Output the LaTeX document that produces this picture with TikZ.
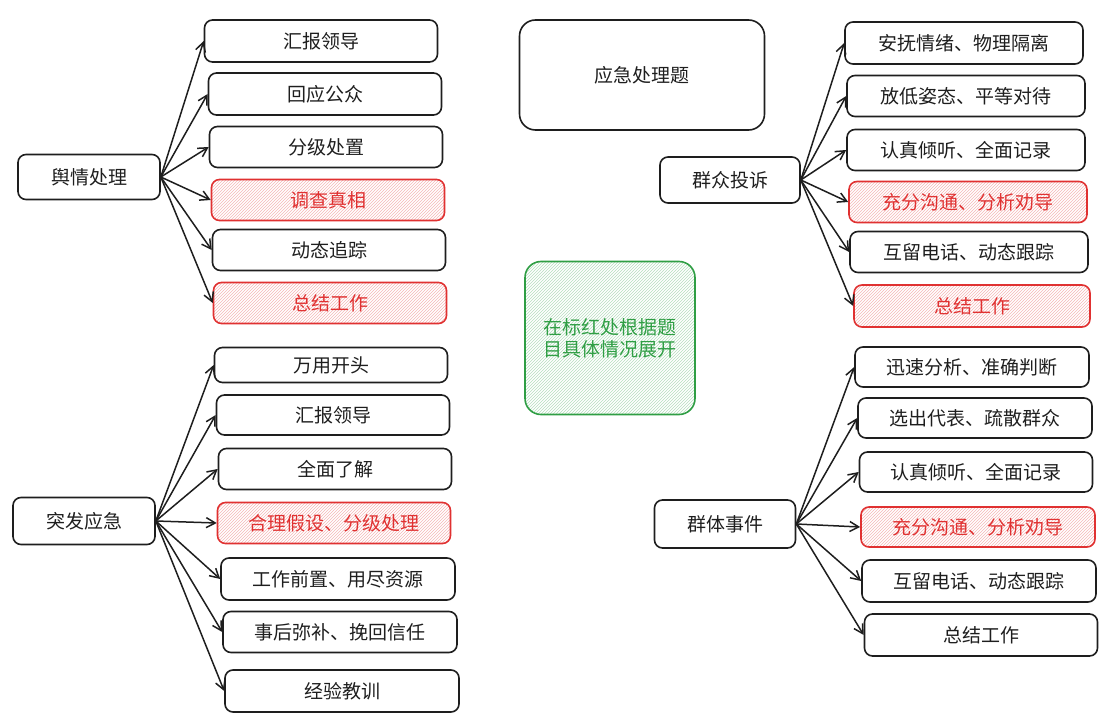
\documentclass[tikz,border=0pt]{standalone}
\usepackage{fontspec}
\setmainfont{Noto Sans CJK SC}
\usetikzlibrary{arrows.meta,patterns}
\definecolor{exred}{HTML}{E03131}
\definecolor{exgreen}{HTML}{2F9E44}
\definecolor{exblack}{HTML}{1E1E1E}
\tikzset{
 box/.style={draw=exblack,line width=1.6pt,rounded corners=8pt,font=\fontsize{19}{22}\selectfont,text=exblack,inner sep=0pt},
 redbox/.style={box,draw=exred,text=exred,pattern=north east lines,pattern color=exred!35},
 greenbox/.style={box,draw=exgreen,text=exgreen,pattern=north east lines,pattern color=exgreen!35,rounded corners=16pt,align=center},
 arr/.style={-{Straight Barb[length=9pt,width=10pt]},line width=1.5pt,exblack}
}
\begin{document}
\begin{tikzpicture}[x=1pt,y=-1pt]
\useasboundingbox (0,0) rectangle (1115,727);
% left top
\node[box,minimum width=142pt,minimum height=45pt] (p1) at (89,177) {舆情处理};
\node[box,minimum width=233pt,minimum height=42pt] (a1) at (321,41) {汇报领导};
\node[box,minimum width=233pt,minimum height=42pt] (a2) at (325,94) {回应公众};
\node[box,minimum width=233pt,minimum height=41pt] (a3) at (326,147) {分级处置};
\node[redbox,minimum width=233pt,minimum height=41pt] (a4) at (328,200) {调查真相};
\node[box,minimum width=233pt,minimum height=41pt] (a5) at (329,250) {动态追踪};
\node[redbox,minimum width=233pt,minimum height=41pt] (a6) at (330,303) {总结工作};
\foreach \i in {1,...,6} \draw[arr] (p1.east) -- (a\i.west);
% title
\node[box,minimum width=245pt,minimum height=110pt,rounded corners=16pt] (t) at (642,75) {应急处理题};
% right top
\node[box,minimum width=140pt,minimum height=46pt] (p2) at (730,180) {群众投诉};
\node[box,minimum width=238pt,minimum height=42pt] (b1) at (964,43) {安抚情绪、物理隔离};
\node[box,minimum width=238pt,minimum height=41pt] (b2) at (966,96) {放低姿态、平等对待};
\node[box,minimum width=238pt,minimum height=41pt] (b3) at (966,150) {认真倾听、全面记录};
\node[redbox,minimum width=238pt,minimum height=41pt] (b4) at (968,202) {充分沟通、分析劝导};
\node[box,minimum width=238pt,minimum height=41pt] (b5) at (969,252) {互留电话、动态跟踪};
\node[redbox,minimum width=236pt,minimum height=42pt] (b6) at (972,306) {总结工作};
\foreach \i in {1,...,6} \draw[arr] (p2.east) -- (b\i.west);
% green
\node[greenbox,minimum width=170pt,minimum height=153pt] (g) at (610,338) {在标红处根据题\\目具体情况展开};
% left bottom
\node[box,minimum width=142pt,minimum height=47pt] (p3) at (84,521) {突发应急};
\node[box,minimum width=233pt,minimum height=35pt] (c1) at (331,365) {万用开头};
\node[box,minimum width=233pt,minimum height=40pt] (c2) at (333,415) {汇报领导};
\node[box,minimum width=233pt,minimum height=41pt] (c3) at (335,469) {全面了解};
\node[redbox,minimum width=233pt,minimum height=41pt] (c4) at (334,523) {合理假设、分级处理};
\node[box,minimum width=234pt,minimum height=42pt] (c5) at (338,579) {工作前置、用尽资源};
\node[box,minimum width=234pt,minimum height=41pt] (c6) at (340,632) {事后弥补、挽回信任};
\node[box,minimum width=234pt,minimum height=42pt] (c7) at (342,691) {经验教训};
\foreach \i in {1,...,7} \draw[arr] (p3.east) -- (c\i.west);
% right bottom
\node[box,minimum width=141pt,minimum height=48pt] (p4) at (725,524) {群体事件};
\node[box,minimum width=234pt,minimum height=40pt] (d1) at (972,367) {迅速分析、准确判断};
\node[box,minimum width=234pt,minimum height=40pt] (d2) at (975,418) {选出代表、疏散群众};
\node[box,minimum width=233pt,minimum height=40pt] (d3) at (976,472) {认真倾听、全面记录};
\node[redbox,minimum width=234pt,minimum height=40pt] (d4) at (978,527) {充分沟通、分析劝导};
\node[box,minimum width=234pt,minimum height=42pt] (d5) at (979,581) {互留电话、动态跟踪};
\node[box,minimum width=233pt,minimum height=42pt] (d6) at (981,635) {总结工作};
\foreach \i in {1,...,6} \draw[arr] (p4.east) -- (d\i.west);
\end{tikzpicture}
\end{document}
